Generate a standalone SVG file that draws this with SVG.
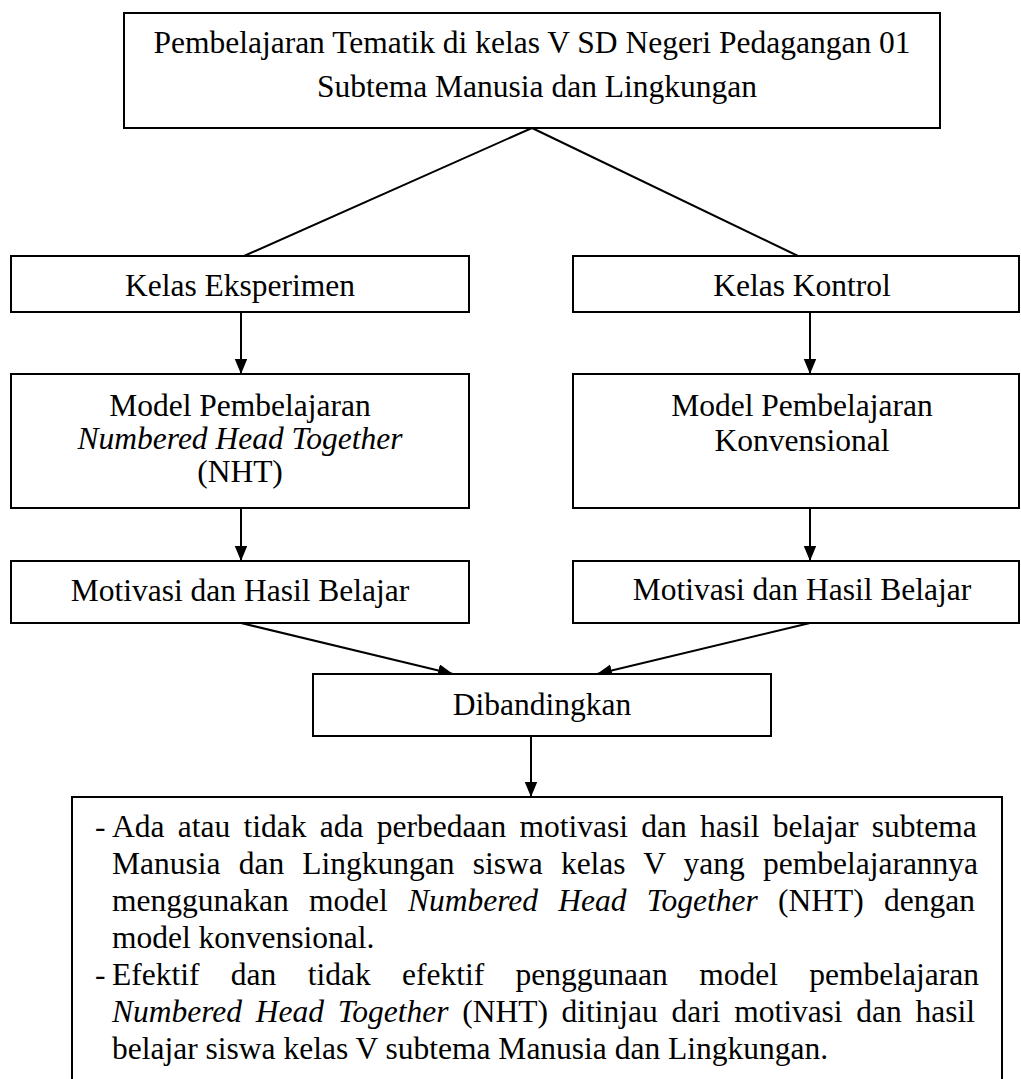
<svg xmlns="http://www.w3.org/2000/svg" width="1021" height="1079" viewBox="0 0 1021 1079">
<style>
.box{fill:#fff;stroke:#000;stroke-width:2}
.t{font-family:"Liberation Serif","Times New Roman",serif;font-size:31.5px;fill:#000}
.c{text-anchor:middle}
.i{font-style:italic}
.ln{fill:none;stroke:#000;stroke-width:2}
</style>
<defs>
<marker id="ah" markerUnits="userSpaceOnUse" markerWidth="16" markerHeight="13" refX="15" refY="6.25" orient="auto">
<path d="M0,0 L15,6.25 L0,12.5 z" fill="#000"/>
</marker>
</defs>
<rect width="1021" height="1079" fill="#fff"/>
<g id="connectors">
<line class="ln" x1="532" y1="128" x2="244" y2="256"/>
<line class="ln" x1="532" y1="128" x2="798" y2="256"/>
<line class="ln" x1="241" y1="312" x2="241" y2="374" marker-end="url(#ah)"/>
<line class="ln" x1="810" y1="312" x2="810" y2="374" marker-end="url(#ah)"/>
<line class="ln" x1="241" y1="508" x2="241" y2="561" marker-end="url(#ah)"/>
<line class="ln" x1="810" y1="508" x2="810" y2="561" marker-end="url(#ah)"/>
<line class="ln" x1="241" y1="623" x2="453" y2="674" marker-end="url(#ah)" stroke-width="2.5"/>
<line class="ln" x1="810" y1="623" x2="597" y2="674" marker-end="url(#ah)" stroke-width="2.5"/>
<line class="ln" x1="531" y1="736" x2="531" y2="797" marker-end="url(#ah)"/>
</g>
<g id="top">
<rect class="box" x="124" y="13" width="816" height="115"/>
<text class="t c" x="532" y="52.5">Pembelajaran Tematik di kelas V SD Negeri Pedagangan 01</text>
<text class="t c" x="537" y="96.7">Subtema Manusia dan Lingkungan</text>
</g>
<g id="kelas-eksperimen">
<rect class="box" x="11" y="256" width="458" height="56"/>
<text class="t c" x="240" y="296">Kelas Eksperimen</text>
</g>
<g id="kelas-kontrol">
<rect class="box" x="573" y="256" width="446" height="56"/>
<text class="t c" x="802" y="296">Kelas Kontrol</text>
</g>
<g id="model-nht">
<rect class="box" x="11" y="374" width="458" height="134"/>
<text class="t c" x="240" y="416">Model Pembelajaran</text>
<text class="t c i" x="240" y="449">Numbered Head Together</text>
<text class="t c" x="240" y="482">(NHT)</text>
</g>
<g id="model-konvensional">
<rect class="box" x="573" y="374" width="446" height="134"/>
<text class="t c" x="802" y="416">Model Pembelajaran</text>
<text class="t c" x="802" y="451">Konvensional</text>
</g>
<g id="motivasi-eksperimen">
<rect class="box" x="11" y="561" width="458" height="62"/>
<text class="t c" x="240" y="601">Motivasi dan Hasil Belajar</text>
</g>
<g id="motivasi-kontrol">
<rect class="box" x="573" y="561" width="446" height="62"/>
<text class="t c" x="802" y="600">Motivasi dan Hasil Belajar</text>
</g>
<g id="dibandingkan">
<rect class="box" x="313" y="674" width="458" height="62"/>
<text class="t c" x="542" y="715">Dibandingkan</text>
</g>
<g id="kesimpulan">
<rect class="box" x="72" y="797" width="930" height="300"/>
<text class="t" x="95" y="837">-</text>
<text class="t" x="112" y="837" word-spacing="5.4">Ada atau tidak ada perbedaan motivasi dan hasil belajar subtema</text>
<text class="t" x="112" y="874" word-spacing="10.3">Manusia dan Lingkungan siswa kelas V yang pembelajarannya</text>
<text class="t" x="112" y="911" word-spacing="12.4">menggunakan model <tspan class="i">Numbered Head Together</tspan> (NHT) dengan</text>
<text class="t" x="112" y="948">model konvensional.</text>
<text class="t" x="95" y="985">-</text>
<text class="t" x="112" y="985" word-spacing="23.5">Efektif dan tidak efektif penggunaan model pembelajaran</text>
<text class="t" x="112" y="1022" word-spacing="5.8"><tspan class="i">Numbered Head Together</tspan> (NHT) ditinjau dari motivasi dan hasil</text>
<text class="t" x="112" y="1059">belajar siswa kelas V subtema Manusia dan Lingkungan.</text>
</g>
</svg>
